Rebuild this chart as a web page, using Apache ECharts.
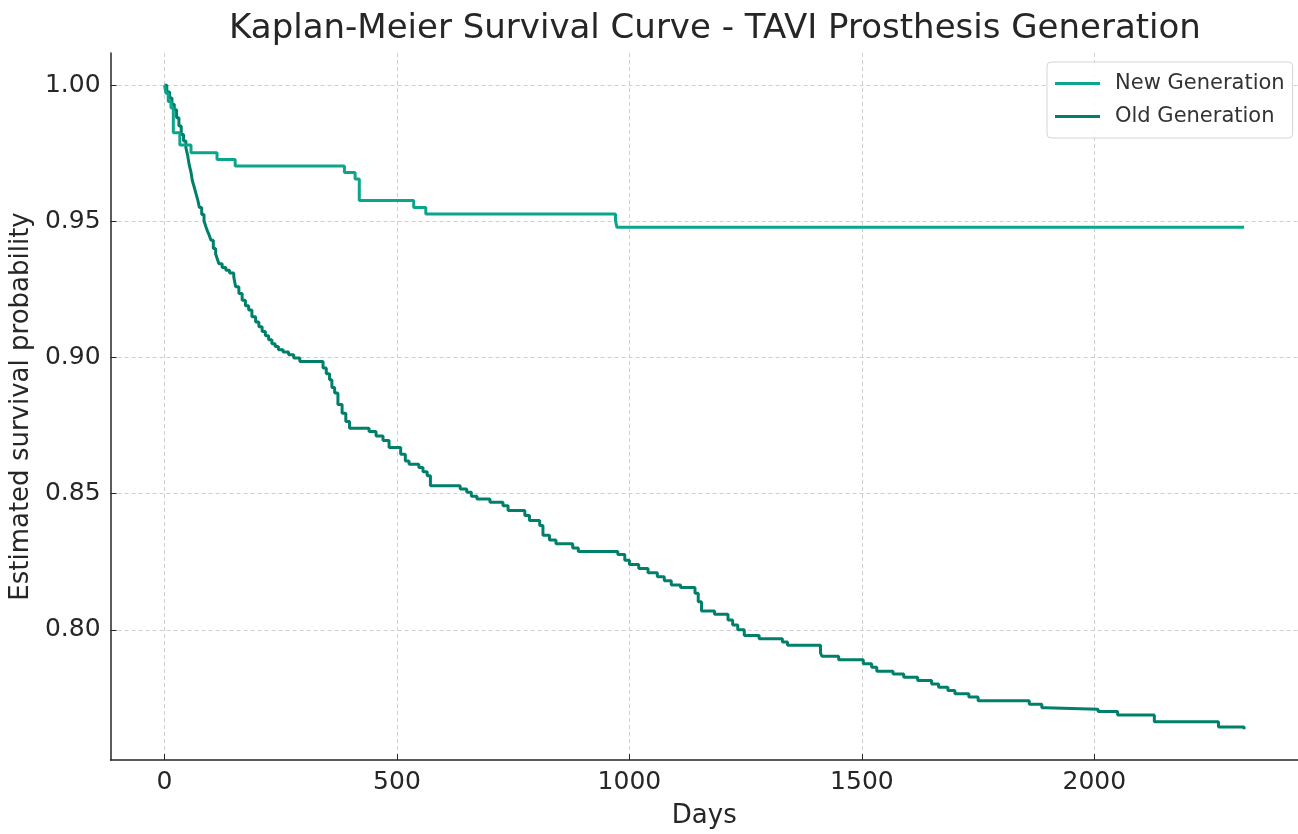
<!DOCTYPE html>
<html>
<head>
<meta charset="utf-8">
<script src="https://cdn.jsdelivr.net/npm/echarts@6/dist/echarts.min.js"></script>
<style>
html,body{margin:0;padding:0;background:#fff;}
#chart{width:1298px;height:834px;}
</style>
</head>
<body>
<div id="chart"></div>
<script>
const title = "Kaplan-Meier Survival Curve - TAVI Prosthesis Generation";
const seriesNames = ["New Generation", "Old Generation"];
const xTicks = [0, 500, 1000, 1500, 2000];
const yTicks = [0.80, 0.85, 0.90, 0.95, 1.00];

const newDays = [0, 3, 8, 14, 19, 33, 57, 113, 152, 387, 410, 419, 536, 562, 970, 973, 2322];
const newSurv = [1.0, 0.997, 0.994, 0.9916, 0.9825, 0.978, 0.9752, 0.9727, 0.9703, 0.9679, 0.9655, 0.9576, 0.9551, 0.9527, 0.9503, 0.9478, 0.9478];

const oldDays = [0, 5, 11, 16, 21, 26, 31, 36, 41, 46, 50, 53, 57, 60, 64, 68, 72, 75, 80, 85, 89, 92, 96, 100, 105, 110, 114, 117, 124, 132, 140, 149, 153, 160, 167, 174, 181, 188, 196, 203, 210, 217, 224, 231, 238, 245, 255, 267, 278, 291, 341, 348, 355, 360, 366, 373, 382, 390, 398, 440, 455, 470, 483, 508, 518, 526, 547, 556, 565, 572, 636, 650, 660, 672, 700, 728, 739, 775, 785, 807, 814, 828, 842, 878, 890, 975, 990, 1000, 1020, 1040, 1060, 1075, 1090, 1110, 1141, 1148, 1155, 1183, 1212, 1222, 1233, 1247, 1279, 1329, 1340, 1411, 1414, 1450, 1503, 1521, 1532, 1567, 1590, 1620, 1650, 1665, 1685, 1700, 1730, 1750, 1860, 1887, 1895, 2008, 2050, 2129, 2267, 2322];
const oldSurv = [1.0, 0.9975, 0.9953, 0.993, 0.991, 0.988, 0.985, 0.9819, 0.9795, 0.977, 0.974, 0.9709, 0.968, 0.9648, 0.9625, 0.960, 0.9575, 0.9551, 0.9525, 0.9502, 0.948, 0.9466, 0.945, 0.943, 0.940, 0.938, 0.936, 0.9344, 0.933, 0.932, 0.931, 0.9296, 0.926, 0.9235, 0.921, 0.919, 0.9174, 0.915, 0.913, 0.9113, 0.9095, 0.908, 0.9065, 0.905, 0.904, 0.9028, 0.902, 0.901, 0.8998, 0.8985, 0.8961, 0.894, 0.8918, 0.889, 0.887, 0.8827, 0.8795, 0.8765, 0.874, 0.8728, 0.8712, 0.8695, 0.8669, 0.8645, 0.862, 0.8608, 0.8596, 0.858, 0.8566, 0.8529, 0.8517, 0.8505, 0.849, 0.848, 0.8468, 0.8456, 0.8438, 0.842, 0.8401, 0.8383, 0.8347, 0.833, 0.8316, 0.830, 0.8288, 0.8277, 0.8255, 0.824, 0.8225, 0.821, 0.8195, 0.818, 0.8165, 0.8155, 0.8134, 0.8103, 0.8069, 0.8057, 0.8036, 0.8018, 0.800, 0.7979, 0.7967, 0.7955, 0.7943, 0.7915, 0.7903, 0.789, 0.7875, 0.7863, 0.7848, 0.7838, 0.7826, 0.7814, 0.7801, 0.7789, 0.7777, 0.7765, 0.7753, 0.774, 0.7727, 0.7714, 0.7708, 0.770, 0.7687, 0.7662, 0.7643, 0.7635];

const colors = ["#0aa58b", "#00806b"];

function pairs(xs, ys){ return xs.map((x,i)=>[x, ys[i]]); }

const chart = echarts.init(document.getElementById('chart'), null, {renderer:'canvas'});
const font = "DejaVu Sans";
chart.setOption({
  animation: false,
  backgroundColor: '#ffffff',
  title: {
    text: title,
    left: 710,
    top: 7,
    textAlign: 'center',
    textStyle: {fontFamily: font, fontSize: 34, fontWeight: 'normal', color: '#262626'}
  },
  legend: {
    orient: 'vertical',
    left: 1047,
    top: 62,
    padding: [11, 8, 11, 8],
    itemGap: 12,
    itemWidth: 45,
    itemHeight: 3,
    icon: 'rect',
    borderColor: '#d5d5d5',
    borderWidth: 1,
    borderRadius: 4,
    backgroundColor: 'rgba(255,255,255,0.85)',
    textStyle: {fontFamily: font, fontSize: 21, color: '#333333', padding: [0, 0, 0, 10]},
    data: seriesNames
  },
  grid: {left: 110, right: -10, top: 53, bottom: 66, containLabel: false},
  xAxis: {
    type: 'value',
    min: -116,
    max: 2438,
    name: 'Days',
    nameLocation: 'middle',
    nameGap: 43,
    nameTextStyle: {fontFamily: font, fontSize: 26, color: '#262626'},
    axisLine: {show: true, onZero: false, lineStyle: {color: '#262626', width: 1.5}},
    axisTick: {show: true, inside: true, length: 6, lineStyle: {color: '#262626'}, customValues: xTicks},
    axisLabel: {customValues: xTicks, fontFamily: font, fontSize: 25, color: '#262626', margin: 10,
      formatter: v => String(v)},
    splitLine: {show: true, lineStyle: {color: '#cfcfcf', type: [4, 3], width: 1}}
  },
  yAxis: {
    type: 'value',
    min: 0.7522,
    max: 1.0118,
    name: 'Estimated survival probability',
    nameLocation: 'middle',
    nameGap: 68,
    nameTextStyle: {fontFamily: font, fontSize: 26, color: '#262626'},
    axisLine: {show: true, onZero: false, lineStyle: {color: '#262626', width: 1.5}},
    axisTick: {show: true, inside: true, length: 6, lineStyle: {color: '#262626'}, customValues: yTicks},
    axisLabel: {customValues: yTicks, fontFamily: font, fontSize: 25, color: '#262626', margin: 10,
      formatter: v => v.toFixed(2)},
    splitLine: {show: true, lineStyle: {color: '#cfcfcf', type: [4, 3], width: 1}}
  },
  series: [
    {name: seriesNames[0], type: 'line', step: 'end', showSymbol: false, symbol: 'none',
     data: pairs(newDays, newSurv), lineStyle: {color: colors[0], width: 3}, itemStyle: {color: colors[0]}, z: 3},
    {name: seriesNames[1], type: 'line', step: 'end', showSymbol: false, symbol: 'none',
     data: pairs(oldDays, oldSurv), lineStyle: {color: colors[1], width: 3}, itemStyle: {color: colors[1]}, z: 2}
  ]
});
</script>
</body>
</html>
